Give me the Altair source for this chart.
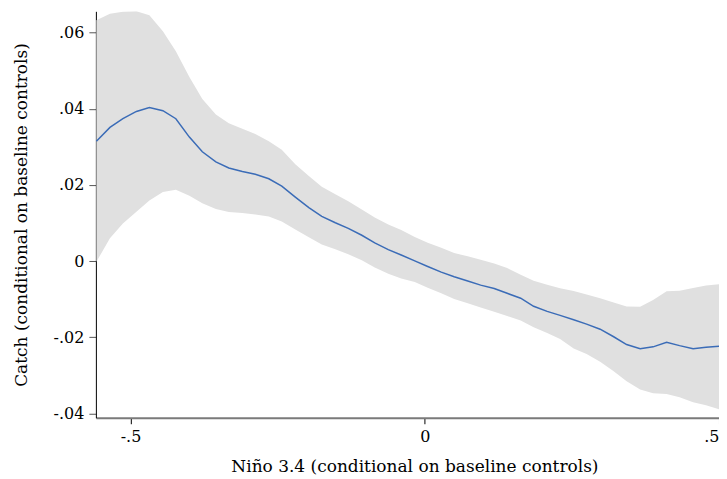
import altair as alt
import pandas as pd

# Grid of evaluation points (Niño 3.4, conditional on baseline controls)
nino = [-0.558, -0.535, -0.513, -0.490, -0.468, -0.445, -0.423, -0.400, -0.378, -0.355,
        -0.333, -0.310, -0.288, -0.265, -0.243, -0.220, -0.197, -0.175, -0.152, -0.130,
        -0.107, -0.085, -0.062, -0.040, -0.017, 0.005, 0.028, 0.050, 0.073, 0.095,
        0.118, 0.140, 0.163, 0.185, 0.208, 0.230, 0.253, 0.275, 0.298, 0.321,
        0.343, 0.366, 0.388, 0.411, 0.433, 0.456, 0.478, 0.501, 0.523]

# Local polynomial fit
catch_fit = [0.03149, 0.03511, 0.03739, 0.03930, 0.04033, 0.03949, 0.03739, 0.03257, 0.02871, 0.02606,
             0.02446, 0.02352, 0.02279, 0.02163, 0.01967, 0.01681, 0.01405, 0.01177, 0.01009, 0.00860,
             0.00679, 0.00480, 0.00302, 0.00160, 0.00008, -0.00139, -0.00288, -0.00409, -0.00522, -0.00629,
             -0.00718, -0.00844, -0.00973, -0.01185, -0.01319, -0.01424, -0.01539, -0.01654, -0.01786, -0.01985,
             -0.02189, -0.02297, -0.02250, -0.02129, -0.02218, -0.02297, -0.02263, -0.02234, -0.02515]

# Confidence band
ci_upper = [0.06322, 0.06492, 0.06545, 0.06558, 0.06453, 0.06033, 0.05509, 0.04832, 0.04255, 0.03849,
            0.03621, 0.03477, 0.03338, 0.03149, 0.02921, 0.02546, 0.02237, 0.01956, 0.01759, 0.01571,
            0.01353, 0.01148, 0.00965, 0.00818, 0.00632, 0.00480, 0.00349, 0.00212, 0.00126, 0.00037,
            -0.00063, -0.00181, -0.00354, -0.00514, -0.00621, -0.00711, -0.00784, -0.00873, -0.00975, -0.01083,
            -0.01190, -0.01198, -0.01020, -0.00792, -0.00776, -0.00705, -0.00640, -0.00606, -0.00732]

ci_lower = [-0.00016, 0.00598, 0.00988, 0.01295, 0.01589, 0.01812, 0.01877, 0.01717, 0.01523, 0.01366,
            0.01290, 0.01261, 0.01227, 0.01169, 0.01041, 0.00829, 0.00627, 0.00440, 0.00312, 0.00181,
            0.00024, -0.00165, -0.00330, -0.00456, -0.00548, -0.00697, -0.00844, -0.00994, -0.01104, -0.01217,
            -0.01327, -0.01439, -0.01557, -0.01736, -0.01885, -0.02043, -0.02292, -0.02436, -0.02640, -0.02887,
            -0.03154, -0.03367, -0.03466, -0.03485, -0.03576, -0.03702, -0.03786, -0.03894, -0.04088]

x_ticks = [-0.5, 0.0, 0.5]
y_ticks = [-0.04, -0.02, 0.0, 0.02, 0.04, 0.06]

df = pd.DataFrame({"x": nino, "fit": catch_fit, "lo": ci_lower, "hi": ci_upper})

FONT = "DejaVu Serif"
x_dom = [-0.5589, 0.5]
y_dom = [-0.04111, 0.06558]

x_enc = alt.X(
    "x:Q",
    scale=alt.Scale(domain=x_dom, nice=False, zero=False),
    axis=alt.Axis(
        values=x_ticks,
        title="Niño 3.4 (conditional on baseline controls)",
        labelExpr="datum.value == 0 ? '0' : replace(replace(format(datum.value, '.1f'), '0.', '.'), '\u2212', '-')",
        grid=False, domainColor="#7a7a7a", domainWidth=2, tickColor="#000000",
        tickSize=6, tickWidth=1, labelPadding=5, labelFlush=True,
        labelFont=FONT, labelFontSize=16, labelColor="#000000",
        titleFont=FONT, titleFontSize=17, titleFontWeight="normal", titleColor="#000000",
        titleX=319, titleY=49, titleBaseline="middle", titleAlign="center", titleAnchor="middle",
    ),
)

y_axis = alt.Axis(
    values=y_ticks,
    title="Catch (conditional on baseline controls)",
    labelExpr="datum.value == 0 ? '0' : replace(replace(format(datum.value, '.2f'), '0.', '.'), '\u2212', '-')",
    grid=False, domainColor="#000000", domainWidth=1, tickColor="#555555",
    tickSize=7, tickWidth=1, labelPadding=5, labelFlush=False,
    labelFont=FONT, labelFontSize=16, labelColor="#000000", labelBaseline="middle",
    titleFont=FONT, titleFontSize=17, titleFontWeight="normal", titleColor="#000000",
    titleX=-74, titleY=203.5, titleAngle=-90, titleBaseline="middle", titleAlign="center",
)

band = alt.Chart(df).mark_area(color="#e0e0e0", opacity=1, clip=True).encode(
    x=x_enc,
    y=alt.Y("lo:Q", scale=alt.Scale(domain=y_dom, nice=False, zero=False), axis=y_axis),
    y2="hi:Q",
)

line = alt.Chart(df).mark_line(color="#3b6cb7", strokeWidth=1.5, clip=True).encode(
    x=alt.X("x:Q"),
    y=alt.Y("fit:Q"),
)

chart = alt.layer(band, line).properties(
    width=624,
    height=407,
    autosize=alt.AutoSizeParams(type="none"),
    padding={"left": 88, "top": 3, "right": 0, "bottom": 58},
    background="#ffffff",
).configure_view(stroke=None)

chart.save("out.html", embed_options={"renderer": "svg", "actions": False})
